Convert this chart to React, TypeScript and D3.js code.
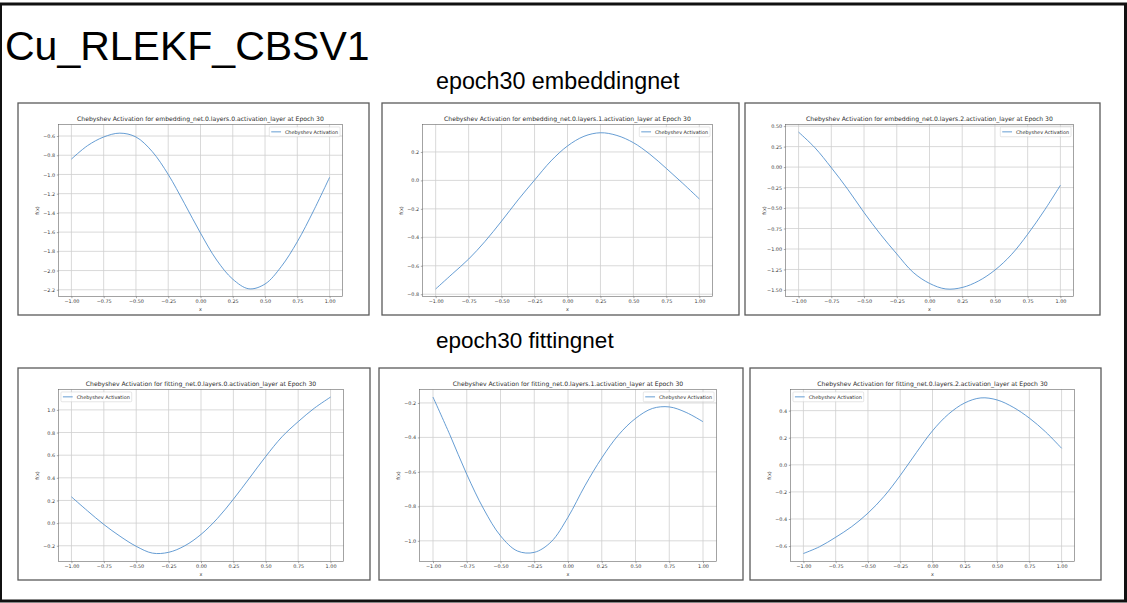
import { useRef, useEffect } from 'react';
import * as d3 from 'd3';

// sample positions on x (same for every layer)
const xs = [-1, -0.875, -0.75, -0.625, -0.5, -0.375, -0.25, -0.125, 0, 0.125, 0.25, 0.375, 0.5, 0.625, 0.75, 0.875, 1];

// f(x)
const embed0 = [-0.84, -0.70, -0.61, -0.57, -0.61, -0.76, -1.0, -1.30, -1.61, -1.89, -2.09, -2.19, -2.14, -1.96, -1.70, -1.38, -1.03];
const embed1 = [-0.763, -0.658, -0.553, -0.428, -0.286, -0.137, 0.002, 0.137, 0.242, 0.31, 0.335, 0.316, 0.265, 0.184, 0.084, -0.021, -0.13];
const embed2 = [0.427, 0.236, -0.007, -0.27, -0.555, -0.82, -1.06, -1.285, -1.42, -1.488, -1.47, -1.39, -1.257, -1.07, -0.82, -0.535, -0.222];
const fit0 = [0.232, 0.107, -0.012, -0.116, -0.205, -0.265, -0.258, -0.2, -0.1, 0.039, 0.211, 0.399, 0.589, 0.762, 0.896, 1.015, 1.113];
const fit1 = [-0.166, -0.385, -0.614, -0.815, -0.971, -1.059, -1.067, -1.006, -0.863, -0.681, -0.519, -0.385, -0.29, -0.232, -0.223, -0.255, -0.309];
const fit2 = [-0.655, -0.605, -0.535, -0.456, -0.357, -0.233, -0.079, 0.09, 0.251, 0.375, 0.457, 0.494, 0.479, 0.425, 0.345, 0.244, 0.122];

const xTicks = [-1, -0.75, -0.5, -0.25, 0, 0.25, 0.5, 0.75, 1];
const yTicksE0 = [-2.2, -2.0, -1.8, -1.6, -1.4, -1.2, -1.0, -0.8, -0.6];
const yTicksE1 = [-0.8, -0.6, -0.4, -0.2, 0, 0.2];
const yTicksE2 = [-1.5, -1.25, -1, -0.75, -0.5, -0.25, 0, 0.25, 0.5];
const yTicksF0 = [-0.2, 0, 0.2, 0.4, 0.6, 0.8, 1.0];
const yTicksF1 = [-1.0, -0.8, -0.6, -0.4, -0.2];
const yTicksF2 = [-0.6, -0.4, -0.2, 0, 0.2, 0.4];

// y limits of each axes (matplotlib autoscale)
const yLims = [[-2.27, -0.48], [-0.816, 0.393], [-1.58, 0.52], [-0.339, 1.18], [-1.12, -0.122], [-0.714, 0.556]];

const layerNames = [
  'embedding_net.0.layers.0.activation_layer',
  'embedding_net.0.layers.1.activation_layer',
  'embedding_net.0.layers.2.activation_layer',
  'fitting_net.0.layers.0.activation_layer',
  'fitting_net.0.layers.1.activation_layer',
  'fitting_net.0.layers.2.activation_layer',
];
const legendLoc = ['right', 'right', 'right', 'left', 'right', 'left'];
const seriesName = 'Chebyshev Activation';

const W = 1127;
const H = 603;

const boxes = [
  { x: 18, y: 103, w: 351, h: 212 },
  { x: 382, y: 103, w: 357, h: 212 },
  { x: 745, y: 103, w: 355, h: 212 },
  { x: 18, y: 368, w: 352, h: 212 },
  { x: 379, y: 368, w: 364, h: 212 },
  { x: 750, y: 368, w: 351, h: 212 },
];

const App = () => {
  const svgRef = useRef<SVGSVGElement | null>(null);

  useEffect(() => {
    const svg = d3.select(svgRef.current);
    svg.selectAll('*').remove();

    const series = [embed0, embed1, embed2, fit0, fit1, fit2];
    const yTicks = [yTicksE0, yTicksE1, yTicksE2, yTicksF0, yTicksF1, yTicksF2];
    const font = 'DejaVu Sans, sans-serif';
    const fs = 4.9;
    const lineColor = '#4a8bcb';
    const inset = { left: 40.5, right: 26.5, top: 21.5, bottom: 18.5 };

    svg.append('rect').attr('width', W).attr('height', H).attr('fill', 'white');

    svg.append('text')
      .attr('x', 5).attr('y', 60)
      .attr('font-family', 'Liberation Sans, Arial, sans-serif')
      .attr('font-size', 41)
      .text('Cu_RLEKF_CBSV1');

    svg.append('text')
      .attr('x', 436).attr('y', 89)
      .attr('font-family', 'Liberation Sans, Arial, sans-serif')
      .attr('font-size', 23.3)
      .text('epoch30 embeddingnet');

    svg.append('text')
      .attr('x', 436).attr('y', 348)
      .attr('font-family', 'Liberation Sans, Arial, sans-serif')
      .attr('font-size', 22.5)
      .text('epoch30 fittingnet');

    boxes.forEach((b, i) => {
      const g = svg.append('g').attr('transform', `translate(${b.x},${b.y})`);
      g.append('rect')
        .attr('width', b.w).attr('height', b.h)
        .attr('fill', 'white').attr('stroke', '#5a5a5a').attr('stroke-width', 1.3);

      const iw = b.w - inset.left - inset.right;
      const ih = b.h - inset.top - inset.bottom;
      const ax = g.append('g').attr('transform', `translate(${inset.left},${inset.top})`);

      const x = d3.scaleLinear().domain([-1.1, 1.1]).range([0, iw]);
      const y = d3.scaleLinear().domain(yLims[i]).range([ih, 0]);
      const yFmt = yTicks[i].some(t => Math.abs(t * 10 - Math.round(t * 10)) > 1e-6) ? '.2f' : '.1f';

      // grid
      ax.append('g').selectAll('line').data(xTicks).enter().append('line')
        .attr('x1', d => x(d)).attr('x2', d => x(d)).attr('y1', 0).attr('y2', ih)
        .attr('stroke', '#cfcfcf').attr('stroke-width', 0.8);
      ax.append('g').selectAll('line').data(yTicks[i]).enter().append('line')
        .attr('x1', 0).attr('x2', iw).attr('y1', d => y(d)).attr('y2', d => y(d))
        .attr('stroke', '#cfcfcf').attr('stroke-width', 0.8);

      const xAxis = ax.append('g')
        .attr('transform', `translate(0,${ih})`)
        .call(d3.axisBottom(x).tickValues(xTicks).tickFormat(d3.format('.2f')).tickSize(1.7).tickPadding(1.7));
      const yAxis = ax.append('g')
        .call(d3.axisLeft(y).tickValues(yTicks[i]).tickFormat(d3.format(yFmt)).tickSize(1.7).tickPadding(1.7));
      [xAxis, yAxis].forEach(a => {
        a.select('.domain').remove();
        a.attr('color', '#555').attr('font-family', font).attr('font-size', fs);
        a.selectAll('line').attr('stroke-width', 0.5);
        a.selectAll('text').attr('fill', '#3a3a3a');
      });

      // the curve
      const pts = xs.map((v, k) => [v, series[i][k]] as [number, number]);
      ax.append('path')
        .datum(pts)
        .attr('fill', 'none')
        .attr('stroke', lineColor)
        .attr('stroke-width', 0.85)
        .attr('d', d3.line<[number, number]>().x(d => x(d[0])).y(d => y(d[1])).curve(d3.curveCatmullRom.alpha(0.5)));

      ax.append('rect')
        .attr('width', iw).attr('height', ih)
        .attr('fill', 'none').attr('stroke', '#666').attr('stroke-width', 0.6);

      // title and labels
      ax.append('text')
        .attr('x', iw / 2).attr('y', -3.5)
        .attr('text-anchor', 'middle')
        .attr('font-family', font).attr('font-size', 6.1).attr('fill', '#2a2a2a')
        .text(`Chebyshev Activation for ${layerNames[i]} at Epoch 30`);
      ax.append('text')
        .attr('x', iw / 2).attr('y', ih + 14.5)
        .attr('text-anchor', 'middle')
        .attr('font-family', font).attr('font-size', fs).attr('fill', '#3a3a3a')
        .text('x');
      ax.append('text')
        .attr('transform', `translate(-19.5,${ih / 2}) rotate(-90)`)
        .attr('text-anchor', 'middle')
        .attr('font-family', font).attr('font-size', fs).attr('fill', '#3a3a3a')
        .text('f(x)');

      // legend
      const pad = 0.4 * fs;
      const handle = 2 * fs;
      const gap = 0.8 * fs;
      const off = 0.5 * fs;
      const leg = ax.append('g');
      const lt = leg.append('text')
        .attr('font-family', font).attr('font-size', fs).attr('fill', '#2a2a2a')
        .attr('dominant-baseline', 'central')
        .text(seriesName);
      const tw = (lt.node() as SVGTextElement).getComputedTextLength();
      const lw = pad * 2 + handle + gap + tw;
      const lh = fs * 1.2 + pad * 2;
      const lx = legendLoc[i] === 'right' ? iw - off - lw : off;
      const ly = off;
      leg.insert('rect', 'text')
        .attr('x', lx).attr('y', ly).attr('width', lw).attr('height', lh)
        .attr('rx', 1).attr('fill', 'white').attr('fill-opacity', 0.8)
        .attr('stroke', '#cccccc').attr('stroke-width', 0.5);
      leg.insert('line', 'text')
        .attr('x1', lx + pad).attr('x2', lx + pad + handle)
        .attr('y1', ly + lh / 2).attr('y2', ly + lh / 2)
        .attr('stroke', lineColor).attr('stroke-width', 0.85);
      lt.attr('x', lx + pad + handle + gap).attr('y', ly + lh / 2);
    });

    svg.append('rect')
      .attr('x', 0.5).attr('y', 4).attr('width', W - 2).attr('height', H - 6)
      .attr('fill', 'none').attr('stroke', '#111').attr('stroke-width', 3);
  }, []);

  return (
    <div style={{ position: 'absolute', left: 0, top: 0 }}>
      <svg ref={svgRef} width={W} height={H}></svg>
    </div>
  );
};

export default App;
